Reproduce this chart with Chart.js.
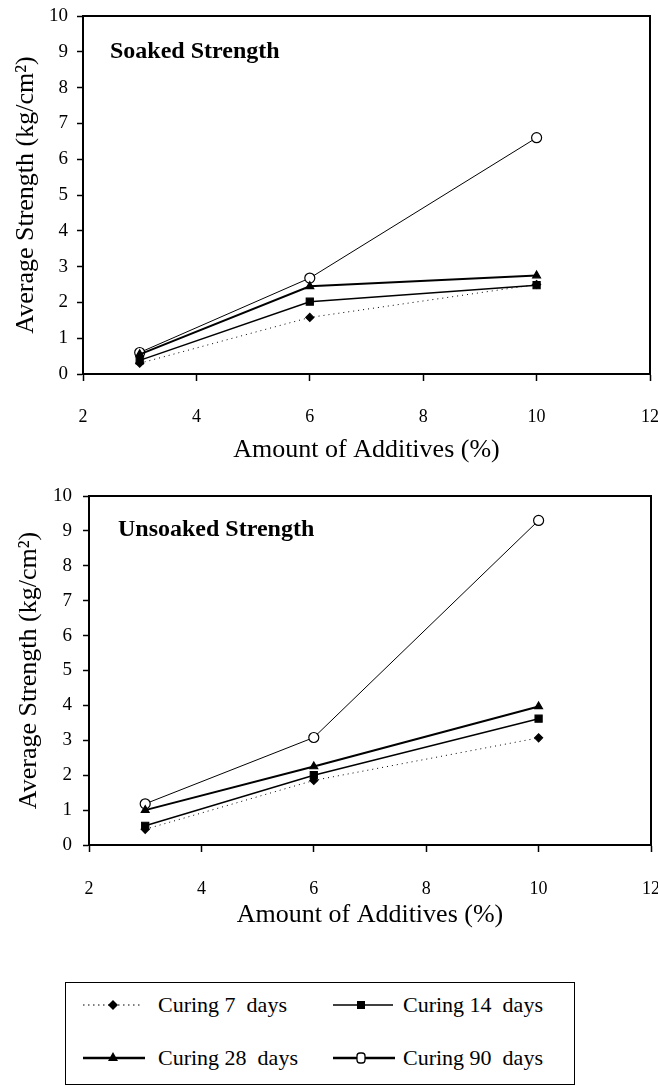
<!DOCTYPE html>
<html>
<head>
<meta charset="utf-8">
<script src="https://cdn.jsdelivr.net/npm/chart.js@4.4.1/dist/chart.umd.min.js"></script>
<style>
  body { margin: 0; background: #fff; width: 658px; height: 1086px; position: relative; overflow: hidden; }
  canvas { position: absolute; left: 0; display: block; }
  #legend { position: absolute; left: 65px; top: 982px; width: 510px; height: 103px; box-sizing: border-box;
            border: 1.5px solid #000; font-family: "Liberation Serif", "Times New Roman", serif; font-size: 22px; color: #000; }
  .item { position: absolute; height: 30px; display: flex; align-items: center; }
  .item svg { display: block; }
  .item span { position: absolute; white-space: pre; }
</style>
</head>
<body>
<canvas id="soaked" width="658" height="475" style="top:0"></canvas>
<canvas id="unsoaked" width="658" height="465" style="top:475px"></canvas>
<div id="legend">
  <div class="item" style="left:17px;top:7px">
    <svg width="60" height="30"><line x1="0" y1="15" x2="58" y2="15" stroke="#000" stroke-width="1" stroke-dasharray="1.5 3.5"/><polygon points="30,10 35,15 30,20 25,15" fill="#000"/></svg>
    <span style="left:75px">Curing 7  days</span>
  </div>
  <div class="item" style="left:267px;top:7px">
    <svg width="62" height="30"><line x1="0" y1="15" x2="60" y2="15" stroke="#000" stroke-width="1.5"/><rect x="24" y="11" width="8" height="8" fill="#000"/></svg>
    <span style="left:70px">Curing 14  days</span>
  </div>
  <div class="item" style="left:17px;top:60px">
    <svg width="64" height="30"><line x1="0" y1="15" x2="62" y2="15" stroke="#000" stroke-width="2.5"/><polygon points="30,9 35,18 25,18" fill="#000"/></svg>
    <span style="left:75px">Curing 28  days</span>
  </div>
  <div class="item" style="left:267px;top:60px">
    <svg width="64" height="30"><line x1="0" y1="15" x2="62" y2="15" stroke="#000" stroke-width="2.5"/><rect x="24" y="10" width="8" height="10" rx="3" fill="#fff" stroke="#000" stroke-width="1.3"/></svg>
    <span style="left:70px">Curing 90  days</span>
  </div>
</div>
<script>
// x values: amount of additives (%)
const additives = [3, 6, 10];
const seriesNames = ['Curing 7 days', 'Curing 14 days', 'Curing 28 days', 'Curing 90 days'];

// soaked strength (kg/cm2)
const soaked7 = [0.30, 1.58, 2.50];
const soaked14 = [0.38, 2.02, 2.48];
const soaked28 = [0.55, 2.45, 2.75];
const soaked90 = [0.60, 2.68, 6.60];

// unsoaked strength (kg/cm2)
const unsoaked7 = [0.45, 1.85, 3.07];
const unsoaked14 = [0.55, 2.00, 3.62];
const unsoaked28 = [1.00, 2.25, 3.97];
const unsoaked90 = [1.18, 3.08, 9.30];

const xMin = 2, xMax = 12, xStep = 2;
const yMin = 0, yMax = 10, yStep = 1;

const serif = '"Liberation Serif", "Times New Roman", serif';

const seriesStyle = [
  { borderWidth: 1, borderDash: [1, 4], pointStyle: 'rectRot', pointRadius: 4, pointBackgroundColor: '#000' },
  { borderWidth: 1.5, borderDash: [], pointStyle: 'rect', pointRadius: 5, pointBackgroundColor: '#000' },
  { borderWidth: 2, borderDash: [], pointStyle: 'triangle', pointRadius: 4.5, pointBackgroundColor: '#000' },
  { borderWidth: 1, borderDash: [], pointStyle: 'circle', pointRadius: 5, pointBackgroundColor: '#fff' }
];

const toPoints = arr => additives.map((x, i) => ({ x: x, y: arr[i] }));

// draws the top and right edge of the plot box and the panel heading
const plotFrame = {
  id: 'plotFrame',
  beforeDatasetsDraw(chart) {
    const { ctx, chartArea: a } = chart;
    ctx.save();
    ctx.strokeStyle = '#000';
    ctx.lineWidth = 2;
    ctx.beginPath();
    ctx.moveTo(a.left, a.top);
    ctx.lineTo(a.right, a.top);
    ctx.lineTo(a.right, a.bottom);
    ctx.stroke();
    ctx.restore();
  },
  afterDraw(chart, args, opts) {
    const { ctx, chartArea: a } = chart;
    ctx.save();
    ctx.font = 'bold 24px ' + serif;
    ctx.fillStyle = '#000';
    ctx.textBaseline = 'middle';
    ctx.fillText(opts.text, a.left + opts.dx, a.top + opts.dy);
    ctx.restore();
  }
};

const makeChart = (id, series, cfg) => {
  const ctx = document.getElementById(id);
  return new Chart(ctx, {
    type: 'scatter',
    data: {
      datasets: series.map((arr, i) => Object.assign({
        label: seriesNames[i],
        data: toPoints(arr),
        showLine: true,
        borderColor: '#000',
        pointBorderColor: '#000',
        pointBorderWidth: 1.2,
        clip: false
      }, seriesStyle[i]))
    },
    options: {
      responsive: false,
      animation: false,
      layout: { padding: { top: cfg.top, right: cfg.right, left: 0, bottom: 0 } },
      plugins: {
        legend: { display: false },
        tooltip: { enabled: false },
        plotFrame: { text: cfg.title, dx: cfg.titleDx, dy: cfg.titleDy }
      },
      scales: {
        x: {
          type: 'linear',
          min: xMin, max: xMax,
          ticks: { stepSize: xStep, color: '#000', padding: cfg.xTickPad, font: { family: serif, size: 18 }, maxRotation: 0 },
          grid: { drawOnChartArea: false, tickLength: 7, tickColor: '#000', tickWidth: 1.5 },
          border: { color: '#000', width: 2 },
          title: { display: true, text: 'Amount of Additives (%)', color: '#000',
                   font: { family: serif, size: 26, lineHeight: 1 }, padding: { top: 0, bottom: 12 } },
          afterFit: s => { s.height = cfg.xHeight; s.paddingLeft = 0; s.paddingRight = 0; }
        },
        y: {
          min: yMin, max: yMax,
          ticks: { stepSize: yStep, color: '#000', padding: cfg.yTickPad, font: { family: serif, size: 19 } },
          grid: { drawOnChartArea: false, tickLength: 6, tickColor: '#000', tickWidth: 1.5 },
          border: { color: '#000', width: 2 },
          title: { display: true, text: 'Average Strength (kg/cm²)', color: '#000',
                   font: { family: serif, size: 26, lineHeight: 1 }, padding: { top: cfg.yTitlePad, bottom: 0 } },
          afterFit: s => { s.width = cfg.yWidth; s.paddingTop = 0; s.paddingBottom = 0; }
        }
      }
    },
    plugins: [plotFrame]
  });
};

makeChart('soaked', [soaked7, soaked14, soaked28, soaked90], {
  title: 'Soaked Strength', titleDx: 27, titleDy: 36,
  top: 16, right: 8, yWidth: 83, xHeight: 101,
  xTickPad: 25, yTickPad: 9, yTitlePad: 13
});

makeChart('unsoaked', [unsoaked7, unsoaked14, unsoaked28, unsoaked90], {
  title: 'Unsoaked Strength', titleDx: 29, titleDy: 34,
  top: 21, right: 7, yWidth: 89, xHeight: 95,
  xTickPad: 26, yTickPad: 11, yTitlePad: 16
});
</script>
</body>
</html>
